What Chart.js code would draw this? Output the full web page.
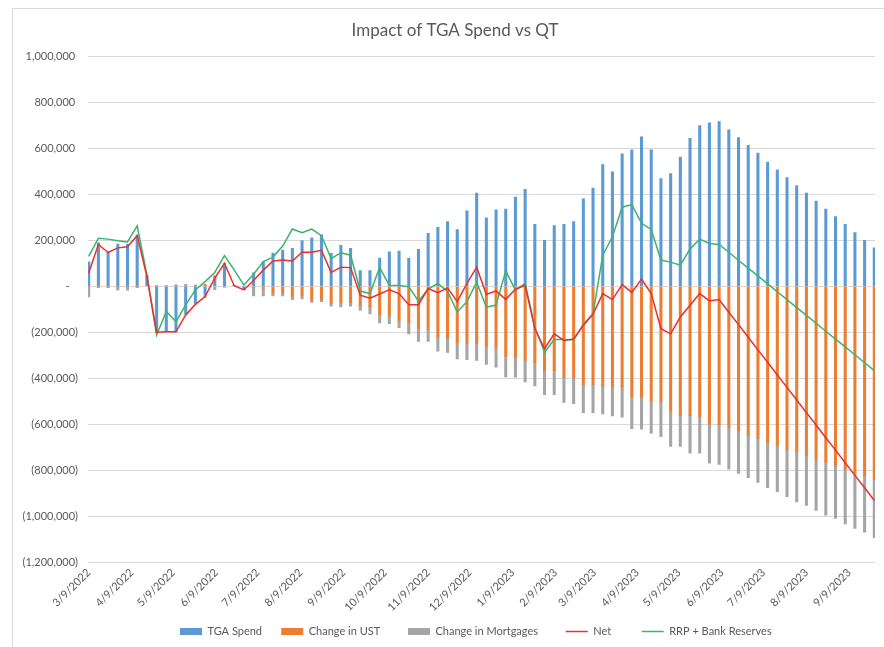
<!DOCTYPE html>
<html><head><meta charset="utf-8">
<script src="https://cdn.jsdelivr.net/npm/chart.js@4.4.0/dist/chart.umd.min.js"></script>
<style>html,body{margin:0;padding:0;background:#fff}#wrap{width:884px;height:647px;position:relative}</style>
</head><body><div id="wrap"><canvas id="c" width="884" height="647"></canvas></div>
<script>
const weekDates = [
 "2022-03-09","2022-03-16","2022-03-23","2022-03-30","2022-04-06","2022-04-13","2022-04-20","2022-04-27",
 "2022-05-04","2022-05-11","2022-05-18","2022-05-25","2022-06-01","2022-06-08","2022-06-15","2022-06-22","2022-06-29",
 "2022-07-06","2022-07-13","2022-07-20","2022-07-27","2022-08-03","2022-08-10","2022-08-17","2022-08-24","2022-08-31",
 "2022-09-07","2022-09-14","2022-09-21","2022-09-28","2022-10-05","2022-10-12","2022-10-19","2022-10-26",
 "2022-11-02","2022-11-09","2022-11-16","2022-11-23","2022-11-30","2022-12-07","2022-12-14","2022-12-21","2022-12-28",
 "2023-01-04","2023-01-11","2023-01-18","2023-01-25","2023-02-01","2023-02-08","2023-02-15","2023-02-22",
 "2023-03-01","2023-03-08","2023-03-15","2023-03-22","2023-03-29","2023-04-05","2023-04-12","2023-04-19","2023-04-26",
 "2023-05-03","2023-05-10","2023-05-17","2023-05-24","2023-05-31","2023-06-07","2023-06-14","2023-06-21","2023-06-28",
 "2023-07-05","2023-07-12","2023-07-19","2023-07-26","2023-08-02","2023-08-09","2023-08-16","2023-08-23","2023-08-30",
 "2023-09-06","2023-09-13","2023-09-20","2023-09-27"
];
const tgaSpend = [
 106000,189000,150000,183000,182000,223000,45000,-200000,-195000,-200000,
 -122000,-70000,-35000,30000,100000,3000,-15000,58000,106000,144000,
 157000,165000,199000,211000,224000,143000,178000,165000,68000,68000,
 122000,150000,153000,123000,161000,230000,256000,281000,247000,328000,
 405000,298000,332000,336000,388000,422000,269000,200000,264000,269000,
 281000,380000,427000,529000,498000,576000,593000,650000,593000,468000,
 490000,562000,643000,699000,711000,716000,681000,647000,613000,579000,
 540000,507000,473000,438000,405000,371000,336000,303000,269000,234000,
 200000,167000
];
const changeUST = [
 -3000,-3000,-3000,-3000,-3000,-3000,0,3000,3000,3000,
 0,5000,8000,15000,0,0,0,-5000,-8000,-30000,
 -30000,-44000,-40000,-61000,-58000,-73000,-72000,-71000,-85000,-90000,
 -125000,-130000,-149000,-160000,-185000,-187000,-223000,-225000,-247000,-249000,
 -250000,-262000,-264000,-304000,-310000,-322000,-332000,-366000,-367000,-398000,
 -398000,-427000,-427000,-435000,-437000,-438000,-482000,-484000,-498000,-501000,
 -542000,-563000,-563000,-568000,-600000,-603000,-614000,-632000,-648000,-661000,
 -680000,-691000,-709000,-721000,-735000,-752000,-767000,-779000,-796000,-811000,
 -825000,-840000
];
const changeMortgages = [
 -43000,-3000,-3000,-14000,-14000,-3000,0,-2000,-2000,3000,
 8000,-8000,-15000,-15000,-5000,0,0,-37000,-34000,-12000,
 -12000,-14000,-15000,-9000,-9000,-14000,-18000,-16000,-20000,-30000,
 -35000,-33000,-31000,-47000,-55000,-53000,-59000,-63000,-69000,-71000,
 -73000,-78000,-88000,-91000,-86000,-94000,-102000,-106000,-105000,-107000,
 -113000,-123000,-123000,-121000,-127000,-132000,-138000,-138000,-141000,-153000,
 -155000,-134000,-163000,-158000,-170000,-172000,-182000,-182000,-185000,-193000,
 -196000,-203000,-207000,-217000,-219000,-223000,-229000,-231000,-238000,-243000,
 -245000,-254000
];
const net = [
 58000,182000,147000,167000,172000,220000,42000,-200000,-198000,-198000,
 -125000,-79000,-45000,35000,100000,2000,-16000,25000,70000,110000,
 114000,110000,148000,148000,156000,60000,83000,81000,-39000,-52000,
 -34000,-15000,-32000,-80000,-80000,-10000,-28000,-7000,-67000,12000,
 83000,-36000,-20000,-57000,-13000,4000,-185000,-272000,-207000,-236000,
 -229000,-170000,-121000,-32000,-58000,7000,-27000,31000,-32000,-185000,
 -207000,-134000,-83000,-32000,-64000,-58000,-113000,-167000,-222000,-277000,
 -331000,-386000,-440000,-495000,-550000,-604000,-659000,-713000,-768000,-823000,
 -877000,-932000
];
const rrpBankReserves = [
 130000,209000,205000,198000,193000,263000,50000,-212000,-110000,-154000,
 -81000,-16000,20000,60000,133000,71000,5000,52000,107000,127000,
 175000,249000,233000,249000,220000,120000,146000,135000,-21000,-32000,
 82000,3000,3000,-2000,-65000,-12000,12000,-23000,-112000,-67000,
 18000,-91000,-82000,67000,-17000,12000,-178000,-287000,-232000,-232000,
 -234000,-166000,-120000,135000,215000,344000,355000,274000,247000,114000,
 105000,92000,162000,205000,186000,182000,148000,113000,79000,45000,
 10000,-24000,-58000,-93000,-127000,-161000,-196000,-230000,-264000,-298000,
 -333000,-367000
];
const xTickLabels = ["3/9/2022","4/9/2022","5/9/2022","6/9/2022","7/9/2022","8/9/2022","9/9/2022","10/9/2022","11/9/2022","12/9/2022","1/9/2023","2/9/2023","3/9/2023","4/9/2023","5/9/2023","6/9/2023","7/9/2023","8/9/2023","9/9/2023"];

const DAY = 86400000;
const t0 = Date.UTC(2022, 2, 9);
function dayOfISO(s){ const p = s.split('-').map(Number); return Math.round((Date.UTC(p[0], p[1]-1, p[2]) - t0) / DAY); }
function dayOfMDY(s){ const p = s.split('/').map(Number); return Math.round((Date.UTC(p[2], p[0]-1, p[1]) - t0) / DAY); }
const xs = weekDates.map(dayOfISO);
const xTickDays = xTickLabels.map(dayOfMDY);
const pts = arr => arr.map((v, i) => ({x: xs[i], y: v}));

function acct(v){
  if (v === 0) return '-   ';
  const s = Math.abs(v).toLocaleString('en-US');
  return v < 0 ? '(' + s + ')' : s + ' ';
}

Chart.defaults.font.family = 'Lato';
const TXT = '#595959';
const LEG_FONT = '11px Lato';
const legendAdvance = [101, 127, 157, 75];
const mctx = document.createElement('canvas').getContext('2d');

function padLabel(text, i){
  if (i >= legendAdvance.length) return text;
  mctx.font = LEG_FONT;
  const target = legendAdvance[i] - (22 + 5.5 + 8);
  let t = text;
  while (mctx.measureText(t).width < target - 1 && t.length < 80) t += ' ';
  return t;
}

const framePlugin = {
  id: 'frame',
  beforeDraw(chart){
    const c = chart.ctx; c.save();
    c.fillStyle = '#fff'; c.fillRect(0, 0, chart.width, chart.height);
    c.strokeStyle = '#d9d9d9'; c.lineWidth = 1; c.strokeRect(12.5, 8.5, 900, 660);
    c.restore();
  },
  afterLayout(chart){
    const tb = chart.titleBlock;
    if (tb) { const w = tb.right - tb.left; tb.left = 455 - w / 2; tb.right = 455 + w / 2; }
    const lg = chart.legend;
    if (lg) { const w = lg.right - lg.left; lg.left = 172; lg.right = 172 + w + 200; }
  }
};

new Chart(document.getElementById('c'), {
  type: 'bar',
  plugins: [framePlugin],
  data: {
    datasets: [
      {label: 'TGA Spend', data: pts(tgaSpend), backgroundColor: '#5b9bd5', stack: 's', order: 2, pointStyle: 'rect'},
      {label: 'Change in UST', data: pts(changeUST), backgroundColor: '#ed7d31', stack: 's', order: 2, pointStyle: 'rect'},
      {label: 'Change in Mortgages', data: pts(changeMortgages), backgroundColor: '#a5a5a5', stack: 's', order: 2, pointStyle: 'rect'},
      {type: 'line', label: 'Net', data: pts(net), borderColor: '#e8302d', backgroundColor: '#e8302d', borderWidth: 1.5, pointRadius: 0, tension: 0, stack: 'n', order: 1, pointStyle: 'line'},
      {type: 'line', label: 'RRP + Bank Reserves', data: pts(rrpBankReserves), borderColor: '#3cb371', backgroundColor: '#3cb371', borderWidth: 1.5, pointRadius: 0, tension: 0, stack: 'r', order: 1, pointStyle: 'line'}
    ]
  },
  options: {
    responsive: false,
    animation: false,
    layout: {padding: {left: 0, right: 9, top: 0, bottom: 0}},
    datasets: {bar: {barThickness: 2.4}},
    scales: {
      x: {
        type: 'linear', min: -0.5, max: 567.5, offset: false, stacked: true,
        grid: {display: false, drawTicks: false}, border: {display: false},
        afterBuildTicks(scale){ scale.ticks = xTickDays.map(d => ({value: d})); },
        ticks: {
          autoSkip: false, minRotation: 45, maxRotation: 45, color: TXT, padding: 4,
          font: {family: 'Lato', size: 11},
          callback(v){ const i = xTickDays.indexOf(v); return i >= 0 ? xTickLabels[i] : ''; }
        }
      },
      y: {
        stacked: true, min: -1200000, max: 1000000,
        grid: {color: '#d9d9d9', drawTicks: false}, border: {display: false},
        afterFit(s){ s.width = 88; },
        ticks: {stepSize: 200000, padding: 10, color: TXT, font: {family: 'Lato', size: 11}, callback: v => acct(v)}
      }
    },
    plugins: {
      tooltip: {enabled: false},
      title: {display: true, text: 'Impact of TGA Spend vs QT', color: TXT, font: {family: 'Lato', size: 17, weight: 'normal'}, padding: {top: 20, bottom: 16}},
      legend: {
        position: 'bottom',
        align: 'start',
        labels: {
          usePointStyle: true, pointStyleWidth: 22, boxHeight: 7, color: TXT, padding: 8,
          font: {family: 'Lato', size: 11},
          sort: (a, b) => a.datasetIndex - b.datasetIndex,
          generateLabels(chart){
            const items = Chart.defaults.plugins.legend.labels.generateLabels(chart);
            items.sort((a, b) => a.datasetIndex - b.datasetIndex);
            items.forEach((it, i) => { it.text = padLabel(it.text, i); });
            return items;
          }
        }
      }
    }
  }
});
</script></body></html>
